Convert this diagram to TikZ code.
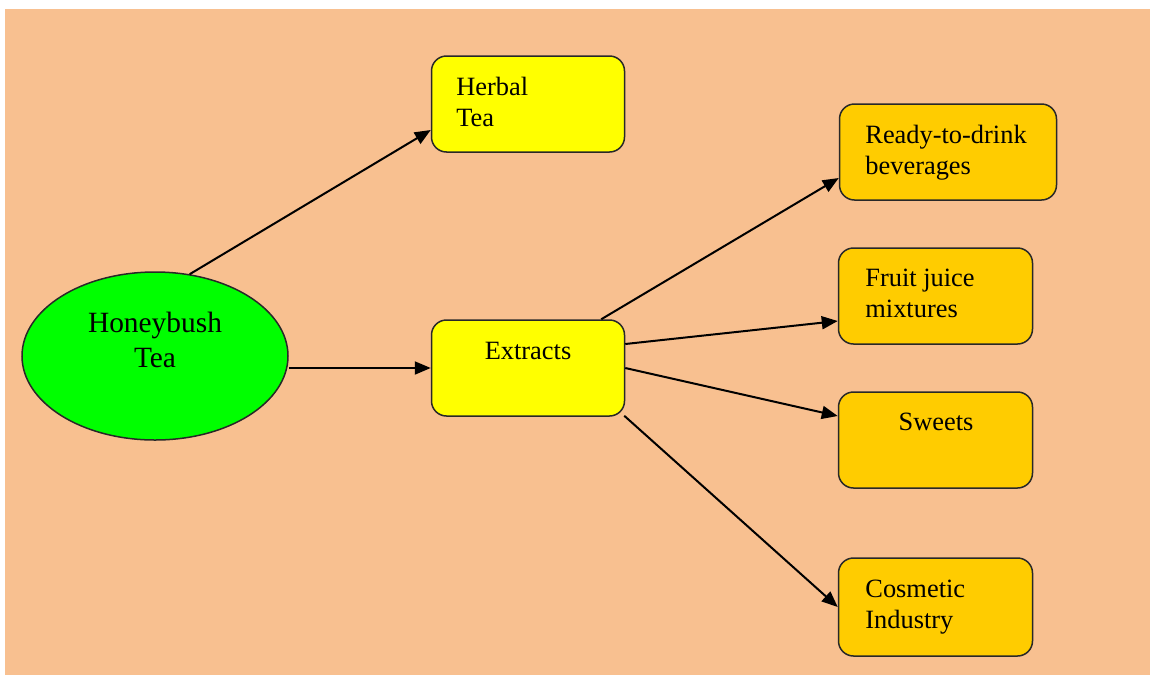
\documentclass[tikz,border=0pt]{standalone}
\usepackage{fontspec}
\setmainfont{Liberation Serif}
\usetikzlibrary{shapes.geometric,arrows.meta,calc}

\definecolor{peach}{RGB}{248,192,144}
\definecolor{leaf}{RGB}{0,255,0}
\definecolor{lemon}{RGB}{255,255,0}
\definecolor{amber}{RGB}{255,204,0}
\definecolor{edge}{RGB}{40,40,40}

\tikzset{
  base box/.style={draw=edge, line width=0.75pt, rounded corners=7.5pt,
    minimum height=48pt, inner sep=0pt},
  main box/.style={base box, fill=lemon, minimum width=96.5pt},
  use box/.style={base box, fill=amber, minimum width=97pt},
  blob/.style={ellipse, draw=edge, line width=0.75pt, fill=leaf,
    minimum width=133pt, minimum height=84pt, inner sep=0pt},
  boxtext/.style={inner sep=0pt, align=left, text=black,
    font=\fontsize{13.2pt}{15.5pt}\selectfont},
  blobtext/.style={inner sep=0pt, align=center, text=black,
    font=\fontsize{14.7pt}{17.5pt}\selectfont},
  link/.style={draw=black, line width=1pt,
    -{Triangle[length=8pt,width=6.5pt]}}
}

\begin{document}
\begin{tikzpicture}[x=0.5pt, y=-0.5pt]
  % canvas and background panel
  \useasboundingbox (0,0) rectangle (1150,675);
  \fill[white] (0,0) rectangle (1150,675);
  \fill[peach] (5,9) rectangle (1150,675);

  % shapes
  \node[blob] (hb) at (155,356) {};
  \node[main box] (herbal) at (528,104) {};
  \node[main box] (ex) at (528,368) {};
  \node[use box, minimum width=108.5pt] (rtd) at (948,152) {};
  \node[use box] (fruit) at (935.5,296) {};
  \node[use box] (sweets) at (935.5,440) {};
  \node[use box, minimum height=49pt] (cos) at (935.5,607) {};

  % labels
  \node[blobtext, anchor=north] (hbt) at (155,312) {Honeybush\\Tea};
  \node[boxtext, anchor=north west] (herbalt) at (456,77) {Herbal\\Tea};
  \node[boxtext, anchor=north] (ext) at (528,342) {Extracts};
  \node[boxtext, anchor=north west] (rtdt) at (865,125) {Ready-to-drink\\beverages};
  \node[boxtext, anchor=north west] (fruitt) at (865,269) {Fruit juice\\mixtures};
  \node[boxtext, anchor=north] (sweetst) at (936,413) {Sweets};
  \node[boxtext, anchor=north west] (cost) at (865,580) {Cosmetic\\Industry};

  % connectors
  \draw[link] (hb.67) -- ($(herbal.west)+(0,26)$);
  \draw[link] (ex.west -| hb.east) -- (ex.west);
  \draw[link] ($(ex.north east)+(-24,0)$) -- ($(rtd.west)+(0,26)$);
  \draw[link] ($(ex.east)+(0,-24)$) -- ($(fruit.west)+(0,25)$);
  \draw[link] (ex.east) -- ($(sweets.west)+(0,-24)$);
  \draw[link] ($(ex.south east)+(-1,-1)$) -- (cos.west);
\end{tikzpicture}
\end{document}
